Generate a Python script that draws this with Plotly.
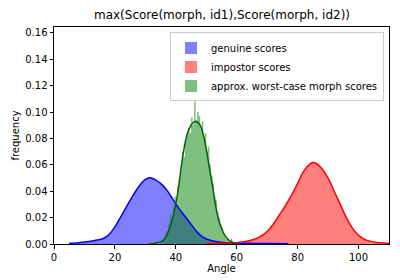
import plotly.graph_objects as go

# genuine scores density (KDE)
gen_x = [5, 8, 10, 12, 14, 16, 18, 20, 22, 24, 26, 28, 30, 31.5, 33, 35, 37, 39, 41, 43, 45, 47, 49, 51, 54, 58, 64, 70, 77]
gen_y = [0.0005, 0.001, 0.0015, 0.002, 0.003, 0.004, 0.007, 0.013, 0.021, 0.029, 0.037, 0.044, 0.049, 0.0503, 0.049,
         0.046, 0.041, 0.034, 0.027, 0.021, 0.015, 0.009, 0.005, 0.003, 0.0015, 0.0008, 0.0005, 0.0003, 0.0001]

# impostor scores density
imp_x = [50, 55, 60, 65, 68, 70, 72, 74, 76, 78, 80, 82, 84, 85, 86, 88, 90, 92, 94, 96, 98, 100, 102, 104, 106, 108, 110]
imp_y = [0.0002, 0.0005, 0.001, 0.003, 0.006, 0.0095, 0.015, 0.022, 0.029, 0.037, 0.046, 0.055, 0.0605, 0.0617, 0.0612,
         0.057, 0.050, 0.040, 0.030, 0.020, 0.012, 0.0065, 0.0035, 0.002, 0.0012, 0.0008, 0.0006]

# morph scores KDE
mor_x = [31, 34, 36, 38, 39, 40, 41, 42, 43, 44, 45, 46, 46.7, 48, 49, 50, 51, 52, 53, 54, 55, 56, 57, 58, 60]
mor_y = [0.0, 0.001, 0.003, 0.012, 0.020, 0.030, 0.045, 0.062, 0.076, 0.085, 0.090, 0.0925, 0.0927, 0.090, 0.083,
         0.072, 0.058, 0.045, 0.030, 0.019, 0.012, 0.007, 0.004, 0.002, 0.0005]

# morph scores histogram (bin left edges, width 0.5)
hist_edges = [35.0 + 0.5 * i for i in range(48)]
hist_vals = [0.002, 0.003, 0.005, 0.008, 0.010, 0.015, 0.022, 0.018, 0.028, 0.036, 0.030, 0.044,
             0.050, 0.056, 0.070, 0.066, 0.078, 0.082, 0.088, 0.084, 0.096, 0.090, 0.108, 0.094,
             0.100, 0.097, 0.087, 0.093, 0.080, 0.084, 0.070, 0.074, 0.060, 0.052, 0.046, 0.036,
             0.033, 0.024, 0.020, 0.014, 0.012, 0.008, 0.006, 0.004, 0.003, 0.002, 0.004, 0.001]

labels = ["genuine scores", "impostor scores", "approx. worst-case morph scores"]

fig = go.Figure()
# fills
fig.add_trace(go.Scatter(x=gen_x, y=gen_y, mode="lines", line=dict(width=0, shape="spline"),
                         fill="tozeroy", fillcolor="rgba(0,0,255,0.5)", showlegend=False, hoverinfo="skip"))
fig.add_trace(go.Scatter(x=imp_x, y=imp_y, mode="lines", line=dict(width=0, shape="spline"),
                         fill="tozeroy", fillcolor="rgba(255,0,0,0.5)", showlegend=False, hoverinfo="skip"))
hx = hist_edges + [hist_edges[-1] + 0.5]
hy = hist_vals + [0]
fig.add_trace(go.Scatter(x=hx, y=hy, mode="lines", line=dict(width=0, shape="hv"),
                         fill="tozeroy", fillcolor="rgba(0,128,0,0.5)", showlegend=False, hoverinfo="skip"))
# lines
fig.add_trace(go.Scatter(x=gen_x, y=gen_y, mode="lines", line=dict(color="#0000ff", width=1.5, shape="spline"),
                         showlegend=False))
fig.add_trace(go.Scatter(x=imp_x, y=imp_y, mode="lines", line=dict(color="#ff0000", width=1.5, shape="spline"),
                         showlegend=False))
fig.add_trace(go.Scatter(x=mor_x, y=mor_y, mode="lines", line=dict(color="#006400", width=1.5, shape="spline"),
                         showlegend=False))
# legend proxies
for lab, col in zip(labels, ["rgba(0,0,255,0.5)", "rgba(255,0,0,0.5)", "rgba(0,128,0,0.5)"]):
    fig.add_trace(go.Bar(x=[None], y=[None], name=lab, marker=dict(color=col, line=dict(width=0))))

axis_common = dict(showgrid=False, zeroline=False, showline=True, linecolor="black", linewidth=1,
                   mirror=True, ticks="outside", ticklen=3.5, tickcolor="black", automargin=False,
                   tickfont=dict(family="DejaVu Sans", size=10, color="black"))
fig.update_layout(
    width=400, height=280,
    margin=dict(l=54, r=11, t=27, b=36, autoexpand=False),
    plot_bgcolor="white", paper_bgcolor="white",
    title=dict(text="max(Score(morph, id1),Score(morph, id2))", x=0.555, xanchor="center",
               y=1 - 15 / 280, yanchor="middle", automargin=False,
               font=dict(family="DejaVu Sans", size=12, color="black")),
    xaxis=dict(range=[0, 110], tickvals=[0, 20, 40, 60, 80, 100],
               title=dict(text="Angle", font=dict(family="DejaVu Sans", size=10, color="black"), standoff=2),
               **axis_common),
    yaxis=dict(range=[0, 0.1645], tickvals=[0, 0.02, 0.04, 0.06, 0.08, 0.10, 0.12, 0.14, 0.16],
               tickformat=".2f",
               title=dict(text="frequency", font=dict(family="DejaVu Sans", size=10, color="black"), standoff=3),
               **axis_common),
    legend=dict(x=0.985, y=0.975, xanchor="right", yanchor="top", bgcolor="white",
                bordercolor="#cccccc", borderwidth=1, tracegroupgap=0,
                font=dict(family="DejaVu Sans", size=10, color="black"), itemsizing="constant"),
    showlegend=True,
)

fig.write_html("out.html", config={"displayModeBar": False},
               post_script="document.body.style.margin='0';")
